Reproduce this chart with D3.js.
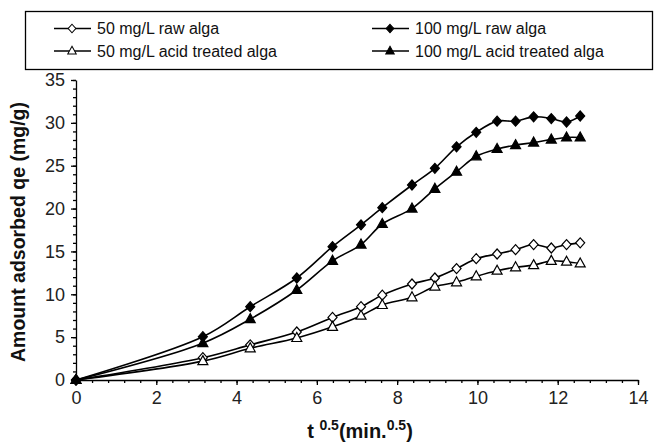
<!DOCTYPE html>
<html>
<head>
<meta charset="utf-8">
<script src="https://cdn.jsdelivr.net/npm/d3@7"></script>
<style>
  body { margin: 0; background: #fff; }
  svg { font-family: "Liberation Sans", Arial, sans-serif; }
</style>
</head>
<body>
<script>
const width = 663;
const height = 443;

// sqrt(time) positions shared by all series
const tHalf = [0, 3.16, 4.34, 5.5, 6.39, 7.1, 7.63, 8.37, 8.94, 9.48, 9.97, 10.49, 10.95, 11.4, 11.84, 12.22, 12.56];

const raw50 = [0, 2.6, 4.1, 5.6, 7.3, 8.55, 9.9, 11.2, 11.9, 13.0, 14.15, 14.7, 15.2, 15.8, 15.4, 15.8, 16.0];
const acid50 = [0, 2.2, 3.7, 4.9, 6.2, 7.5, 8.75, 9.65, 10.9, 11.4, 12.1, 12.75, 13.15, 13.4, 13.9, 13.8, 13.6];
const raw100 = [0, 5.05, 8.55, 11.9, 15.55, 18.1, 20.1, 22.75, 24.7, 27.2, 28.9, 30.2, 30.2, 30.7, 30.5, 30.1, 30.8];
const acid100 = [0, 4.3, 7.1, 10.5, 13.9, 15.8, 18.2, 20.0, 22.3, 24.3, 26.1, 26.95, 27.4, 27.7, 28.05, 28.3, 28.3];

const xTicks = [0, 2, 4, 6, 8, 10, 12, 14];
const yTicks = [0, 5, 10, 15, 20, 25, 30, 35];

const series = [
  {name: "50 mg/L raw alga", values: raw50, shape: "diamond", fill: "#fff"},
  {name: "100 mg/L raw alga", values: raw100, shape: "diamond", fill: "#000"},
  {name: "50 mg/L acid treated alga", values: acid50, shape: "triangle", fill: "#fff"},
  {name: "100 mg/L acid treated alga", values: acid100, shape: "triangle", fill: "#000"}
];

const svg = d3.select("body")
  .append("svg")
  .attr("width", width)
  .attr("height", height);

const x = d3.scaleLinear().domain([0, 14]).range([76, 638]);
const y = d3.scaleLinear().domain([0, 35]).range([380, 80]);

const diamond = "M0,-5L4.5,0L0,5L-4.5,0Z";
const triangle = "M0,-5.5L5,3.5L-5,3.5Z";
const shapePath = (s) => s === "diamond" ? diamond : triangle;

// minor ticks
svg.append("g")
  .attr("transform", "translate(" + x(0) + ",0)")
  .call(d3.axisLeft(y).tickValues(d3.range(0, 36, 1)).tickSize(3).tickFormat(""))
  .call(g => g.select(".domain").remove());

svg.append("g")
  .attr("transform", "translate(0," + y(0) + ")")
  .call(d3.axisBottom(x).tickValues(d3.range(0, 14.01, 0.4)).tickSize(3).tickFormat(""))
  .call(g => g.select(".domain").remove());

// main axes
const yAxis = svg.append("g")
  .attr("transform", "translate(" + x(0) + ",0)")
  .call(d3.axisLeft(y).tickValues(yTicks).tickSize(5).tickSizeOuter(0).tickPadding(6));

const xAxis = svg.append("g")
  .attr("transform", "translate(0," + y(0) + ")")
  .call(d3.axisBottom(x).tickValues(xTicks).tickSize(5).tickSizeOuter(0).tickPadding(6));

svg.selectAll(".tick line, .domain").attr("stroke", "#000").attr("stroke-width", 1.3);
svg.selectAll(".tick text").attr("font-size", 18).attr("fill", "#222").attr("font-family", "Liberation Sans, Arial, sans-serif");

// lines
const line = d3.line()
  .x((d, i) => x(tHalf[i]))
  .y((d) => y(d))
  .curve(d3.curveCatmullRom);

series.forEach((s) => {
  svg.append("path")
    .datum(s.values)
    .attr("fill", "none")
    .attr("stroke", "#000")
    .attr("stroke-width", 1.6)
    .attr("d", line);
});

series.forEach((s) => {
  svg.append("g").selectAll("path")
    .data(s.values)
    .join("path")
    .attr("d", shapePath(s.shape))
    .attr("transform", (d, i) => "translate(" + x(tHalf[i]) + "," + y(d) + ")")
    .attr("fill", s.fill)
    .attr("stroke", "#000")
    .attr("stroke-width", 1.2);
});

// axis titles
svg.append("text")
  .attr("transform", "translate(25," + ((y(0) + y(35)) / 2 + 2) + ") rotate(-90)")
  .attr("text-anchor", "middle")
  .attr("font-size", 19.5)
  .attr("font-weight", "bold")
  .attr("fill", "#111")
  .text("Amount adsorbed qe (mg/g)");

const xt = svg.append("text")
  .attr("x", (x(0) + x(14)) / 2 + 3)
  .attr("y", 438)
  .attr("text-anchor", "middle")
  .attr("font-size", 20)
  .attr("font-weight", "bold")
  .attr("fill", "#111");
xt.append("tspan").text("t ");
xt.append("tspan").attr("dy", -8).attr("font-size", 14).text("0.5");
xt.append("tspan").attr("dy", 8).text("(min.");
xt.append("tspan").attr("dy", -8).attr("font-size", 14).text("0.5");
xt.append("tspan").attr("dy", 8).text(")");

// legend
const legend = svg.append("g");
legend.append("rect")
  .attr("x", 25.5).attr("y", 11.5)
  .attr("width", 627).attr("height", 58)
  .attr("fill", "#fff")
  .attr("stroke", "#000")
  .attr("stroke-width", 1.3);

const legPos = [[54, 28.5], [372, 28.5], [54, 51], [372, 51]];
series.forEach((s, i) => {
  const [lx, ly] = legPos[i];
  const g = legend.append("g").attr("transform", "translate(" + lx + "," + ly + ")");
  g.append("line").attr("x1", 0).attr("x2", 37).attr("y1", 0).attr("y2", 0)
    .attr("stroke", "#000").attr("stroke-width", 1.6);
  g.append("path").attr("d", shapePath(s.shape))
    .attr("transform", "translate(18,0) scale(0.85)")
    .attr("fill", s.fill).attr("stroke", "#000").attr("stroke-width", 1.2);
  g.append("text").attr("x", 43).attr("y", 5.5)
    .attr("font-size", 16).attr("fill", "#111")
    .text(s.name);
});
</script>
</body>
</html>
